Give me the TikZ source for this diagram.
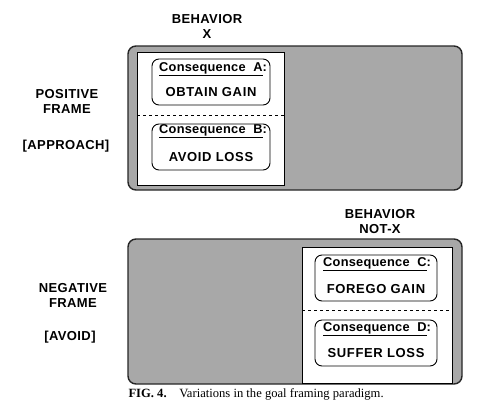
\documentclass[tikz,border=0pt]{standalone}
\usepackage{fontspec}
\setmainfont{Liberation Serif}
\newfontfamily\lblfont[LetterSpace=3]{Liberation Sans}
\newfontfamily\consfont[LetterSpace=5]{Liberation Sans}
\newfontfamily\headfont[LetterSpace=2]{Liberation Sans}
\usepackage{tikz}

\definecolor{stipple}{RGB}{168,168,168}

\tikzset{
	frame/.style={draw=black!85, line width=1.4pt, fill=stipple, rounded corners=8pt},
	inner/.style={draw=black, line width=0.8pt, fill=white},
	consbox/.style={draw=black, line width=0.9pt, rounded corners=7pt},
	lbl/.style={font=\lblfont\bfseries\fontsize{13}{15}\selectfont, align=center},
	cons/.style={font=\consfont\bfseries\fontsize{13}{15}\selectfont},
	conshead/.style={font=\headfont\bfseries\fontsize{12.8}{15}\selectfont}
}

\begin{document}
\begin{tikzpicture}[x=1pt, y=-1pt]
		\useasboundingbox (0,0) rectangle (503,410);
		% positive frame
		\draw[frame] (128,46) rectangle (462,190);
		\draw[inner] (137,52) rectangle (284,185);
		\draw[consbox] (152,59) rectangle (270,105);
		\draw[consbox] (152,124) rectangle (270,170);
		\draw[dashed, line width=0.6pt] (137,115) -- (284,115);
		\node[lbl] (behx) at (207,26) {BEHAVIOR\\X};
		\node[lbl] (posframe) at (67,101) {POSITIVE\\FRAME};
		\node[lbl] (approach) at (66,146) {[APPROACH]};
		\node[conshead] (consA) at (213,69) {\underline{Consequence\ \ A}:};
		\node[cons] (gainA) at (211,92) {OBTAIN GAIN};
		\node[conshead] (consB) at (213,131) {\underline{Consequence\ \ B}:};
		\node[cons] (lossB) at (211,157) {AVOID LOSS};
		% negative frame
		\draw[frame] (128,239) rectangle (462,384);
		\draw[inner] (302,247) rectangle (452,383);
		\draw[consbox] (315,255) rectangle (437,301);
		\draw[consbox] (315,320) rectangle (437,366);
		\draw[dashed, line width=0.6pt] (302,310) -- (452,310);
		\node[lbl] (behnotx) at (380,222) {BEHAVIOR\\NOT-X};
		\node[lbl] (negframe) at (73,295) {NEGATIVE\\FRAME};
		\node[lbl] (avoid) at (70,337) {[AVOID]};
		\node[conshead] (consC) at (377,264) {\underline{Consequence\ \ C}:};
		\node[cons] (gainC) at (376,289) {FOREGO GAIN};
		\node[conshead] (consD) at (377,329) {\underline{Consequence\ \ D}:};
		\node[cons] (lossD) at (376,353) {SUFFER LOSS};
		% caption
		\node[anchor=west, font=\fontsize{12.6}{14}\selectfont] (caption) at (125,394) {\textbf{FIG. 4.}\quad Variations in the goal framing paradigm.};
	\end{tikzpicture}
\end{document}
